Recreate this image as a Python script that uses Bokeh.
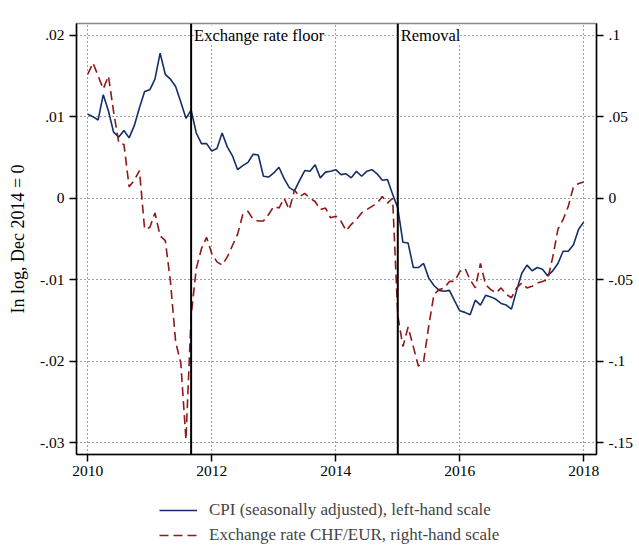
from bokeh.plotting import figure
from bokeh.layouts import column
from bokeh.models import (LinearAxis, Range1d, FixedTicker, Span, Label,
                          Legend, LegendItem)
from bokeh.embed import file_html
from bokeh.resources import INLINE

# monthly observations, 2010m1 .. 2018m1
months = [2010 + i / 12 for i in range(97)]

cpi = [0.0103, 0.0100, 0.0096, 0.0127, 0.0107, 0.0081, 0.0075, 0.0083, 0.0074, 0.0089,
       0.0111, 0.0131, 0.0133, 0.0146, 0.0178, 0.0152, 0.0146, 0.0137, 0.0118, 0.0098,
       0.0108, 0.0080, 0.0067, 0.0067, 0.0058, 0.0061, 0.0080, 0.0063, 0.0052, 0.0035,
       0.0040, 0.0044, 0.0054, 0.0053, 0.0027, 0.0026, 0.0031, 0.0038, 0.0024, 0.0013,
       0.0009, 0.0022, 0.0034, 0.0033, 0.0041, 0.0025, 0.0032, 0.0033, 0.0035, 0.0029,
       0.0030, 0.0025, 0.0033, 0.0027, 0.0033, 0.0035, 0.0030, 0.0022, 0.0023, 0.0005,
       -0.0012, -0.0054, -0.0055, -0.0085, -0.0085, -0.0080, -0.0098, -0.0107, -0.0113, -0.0114,
       -0.0113, -0.0126, -0.0138, -0.0140, -0.0143, -0.0125, -0.0131, -0.0119, -0.0121, -0.0124,
       -0.0129, -0.0131, -0.0136, -0.0113, -0.0092, -0.0082, -0.0089, -0.0085, -0.0087, -0.0095,
       -0.0089, -0.0080, -0.0065, -0.0065, -0.0057, -0.0038, -0.0029]

chfeur = [0.076, 0.083, 0.075, 0.067, 0.075, 0.053, 0.034, 0.033, 0.007, 0.011,
          0.017, -0.019, -0.018, -0.009, -0.023, -0.026, -0.051, -0.088, -0.101, -0.148,
          -0.072, -0.043, -0.031, -0.024, -0.034, -0.039, -0.041, -0.036, -0.029, -0.022,
          -0.010, -0.008, -0.013, -0.014, -0.014, -0.010, -0.005, -0.006, 0.000, -0.007,
          0.005, 0.001, 0.003, 0.000, -0.002, -0.007, -0.006, -0.012, -0.011, -0.014,
          -0.020, -0.016, -0.013, -0.009, -0.007, -0.005, -0.003, 0.001, -0.003, 0.000,
          -0.072, -0.091, -0.079, -0.091, -0.103, -0.100, -0.078, -0.059, -0.056, -0.055,
          -0.051, -0.051, -0.045, -0.043, -0.050, -0.055, -0.040, -0.053, -0.056, -0.058,
          -0.055, -0.059, -0.061, -0.055, -0.052, -0.055, -0.054, -0.052, -0.051, -0.050,
          -0.036, -0.019, -0.013, -0.005, 0.007, 0.009, 0.010]

floor_date = 2011 + 8 / 12      # 2011m9
removal_date = 2015.0           # 2015m1

x_ticks = [2010, 2012, 2014, 2016, 2018]
left_ticks = [0.02, 0.01, 0, -0.01, -0.02, -0.03]
left_labels = [".02", ".01", "0", "-.01", "-.02", "-.03"]
right_ticks = [0.1, 0.05, 0, -0.05, -0.1, -0.15]
right_labels = [".1", ".05", "0", "-.05", "-.1", "-.15"]

cpi_label = "CPI (seasonally adjusted), left-hand scale"
fx_label = "Exchange rate CHF/EUR, right-hand scale"

FONT = "Liberation Serif"
navy = "#142f66"
maroon = "#8c1a1a"

p = figure(frame_width=520, frame_height=431, output_backend="svg", toolbar_location=None,
           x_range=Range1d(2009.818, 2018.205), y_range=Range1d(-0.03143, 0.02143),
           min_border_left=76, min_border_right=36, min_border_top=23, min_border_bottom=30)
p.extra_y_ranges = {"fx": Range1d(-0.15714, 0.10714)}
p.outline_line_color = "#8a8a8a"
p.outline_line_width = 1.5

# axes
def style_axis(ax):
    ax.axis_line_color = "black"
    ax.axis_line_width = 1.5
    ax.major_tick_line_color = "black"
    ax.major_tick_line_width = 1.5
    ax.major_tick_out = 7
    ax.major_tick_in = 0
    ax.minor_tick_line_color = None
    ax.major_label_text_font = FONT
    ax.major_label_text_font_size = "15.5px"
    ax.major_label_text_color = "black"
    ax.major_label_standoff = 5

xax = p.xaxis[0]
style_axis(xax)
xax.ticker = FixedTicker(ticks=x_ticks)
xax.major_label_standoff = 4

yax = p.yaxis[0]
style_axis(yax)
yax.ticker = FixedTicker(ticks=left_ticks)
yax.major_label_overrides = dict(zip(left_ticks, left_labels))
yax.axis_label = "In log, Dec 2014 = 0"
yax.axis_label_text_font = FONT
yax.axis_label_text_font_size = "18px"
yax.axis_label_text_font_style = "normal"
yax.axis_label_text_color = "black"
yax.axis_label_standoff = 9

rax = LinearAxis(y_range_name="fx")
style_axis(rax)
rax.ticker = FixedTicker(ticks=right_ticks)
rax.major_label_overrides = dict(zip(right_ticks, right_labels))
p.add_layout(rax, "right")

# dotted grid
p.xgrid.ticker = FixedTicker(ticks=x_ticks)
p.ygrid.ticker = FixedTicker(ticks=left_ticks)
for g in (p.xgrid[0], p.ygrid[0]):
    g.grid_line_color = "black"
    g.grid_line_alpha = 0.75
    g.grid_line_dash = "1 3"
    g.grid_line_width = 1

# event lines
for d, txt in ((floor_date, "Exchange rate floor"), (removal_date, "Removal")):
    p.add_layout(Span(location=d, dimension="height", line_color="black", line_width=2))
    p.add_layout(Label(x=d, y=0.02, x_offset=3, text=txt, text_baseline="middle",
                       text_font=FONT, text_font_size="16.5px", text_color="black",
                       background_fill_color="white"))

p.line(months, cpi, line_color=navy, line_width=1.6)
p.line(months, chfeur, y_range_name="fx", line_color=maroon, line_width=1.6, line_dash="9 5")

# legend strip under the chart (a legend outside the frame gets clipped)
leg = figure(width=632, height=64, output_backend="svg", toolbar_location=None,
             x_range=Range1d(0, 632), y_range=Range1d(0, 64),
             x_axis_location=None, y_axis_location=None,
             min_border_left=0, min_border_right=0, min_border_top=0, min_border_bottom=0)
leg.outline_line_color = None
leg.grid.visible = False
l_cpi = leg.line(months, cpi, line_color=navy, line_width=1.6, visible=False)
l_fx = leg.line(months, chfeur, line_color=maroon, line_width=1.6, line_dash="9 5", visible=False)

legend = Legend(items=[LegendItem(label=cpi_label, renderers=[l_cpi]),
                       LegendItem(label=fx_label, renderers=[l_fx])],
                location=(83, 3), glyph_width=38, glyph_height=18, label_height=18,
                spacing=5, padding=2, margin=0, label_standoff=12, border_line_color=None,
                background_fill_alpha=0, inactive_fill_alpha=0,
                label_text_font=FONT, label_text_font_size="17px")
leg.add_layout(legend)

open("out.html", "w").write(file_html(column(p, leg), INLINE))
